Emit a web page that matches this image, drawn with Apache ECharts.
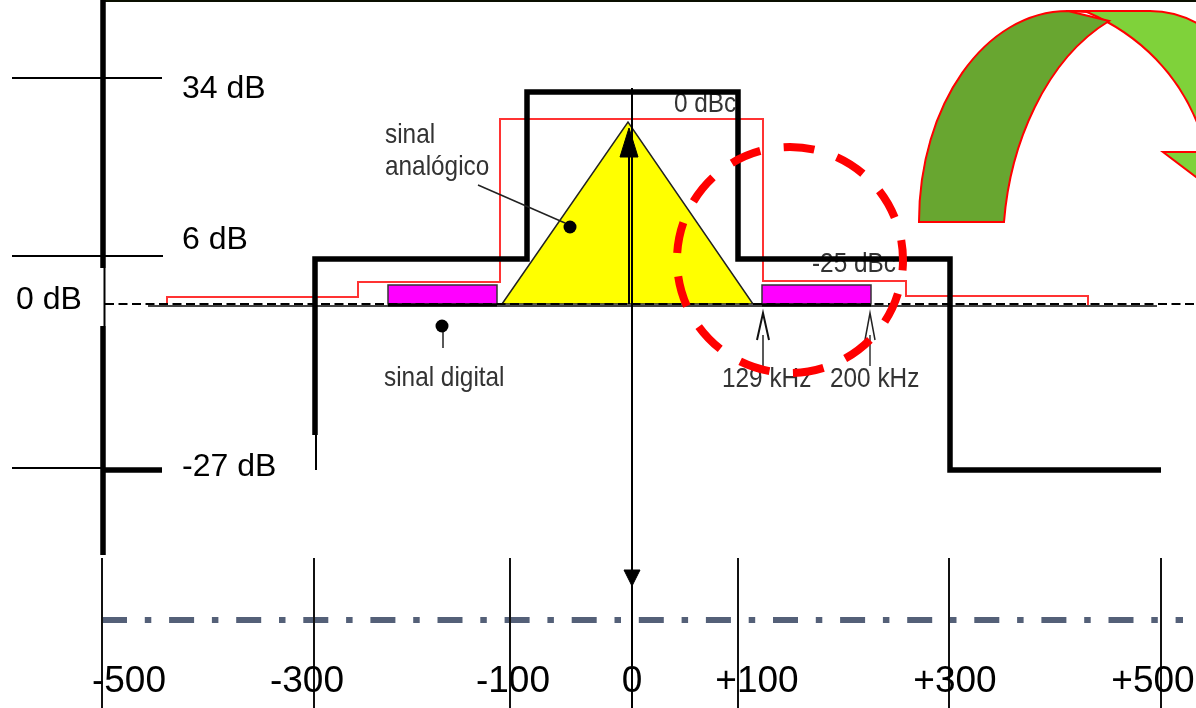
<!DOCTYPE html>
<html>
<head>
<meta charset="utf-8">
<style>
  html, body { margin: 0; padding: 0; background: #fff; }
  #chart { width: 1196px; height: 708px; }
</style>
<script src="https://cdn.jsdelivr.net/npm/echarts@6/dist/echarts.min.js"></script>
</head>
<body>
<div id="chart"></div>
<script>
// the drawing is a schematic, not to scale: values are read in picture units on both axes
const topEdge = [[102, 1], [1196, 1]];
const axisUpper = [[103, 0], [103, 268]];
const axisGap = [[104.5, 268], [104.5, 326]];
const axisLower = [[103, 326], [103, 555]];
const level34 = [[12, 78], [162, 78]];
const level6 = [[12, 256], [163, 256]];
const levelMinus27Thin = [[12, 468], [105, 468]];
const levelMinus27Thick = [[105, 470], [162, 470]];

const baseSolid = [[148, 306], [1157, 306]];
const baseDashed = [[105, 304], [1196, 304]];
const maskLeftThin = [[316, 430], [316, 470]];
const maskThick = [[315, 435], [315, 259], [527, 259], [527, 92], [738, 92], [738, 259], [950, 259], [950, 470], [1161, 470]];
const redOutline = [[167, 305], [167, 297], [358, 297], [358, 282], [500, 282], [500, 119], [763, 119], [763, 281], [906, 281], [906, 296], [1088, 296], [1088, 305]];

const analogTriangle = [[502, 304], [628, 122], [753, 304]];
const digitalLeft = [[388, 285], [497, 285], [497, 304], [388, 304]];
const digitalRight = [[762, 285], [871, 285], [871, 304], [762, 304]];

const centerLine = [[632, 88], [632, 708]];
const centerInner = [[629, 155], [629, 304]];
const arrowUp = [[629, 128], [638, 157], [620, 157]];
const arrowDown = [[624, 570], [640, 570], [632, 586]];

const tickX = [102, 314, 510, 738, 949, 1161];
const dashDotLine = [[102, 620], [1183, 620]];

const leaderAnalog = [[478, 185], [565, 223]];
const leaderDigital = [[443, 326], [443, 348]];
const dots = [[570, 227], [442, 326]];
const arrow129 = [[757, 340], [763, 313], [769, 340]];
const stem129 = [[763, 335], [763, 366]];
const arrow200 = [[865, 340], [870, 313], [875, 340]];
const stem200 = [[870, 335], [870, 366]];

const circleCenter = [790, 260];
const circleRadius = 113;

const archDark = [['M', 919, 222], ['C', 919, 105, 985, 11, 1068, 11], ['L', 1109, 21], ['C', 1045, 60, 1010, 145, 1004, 222], ['Z']];
const archLight = [['M', 1066, 11], ['L', 1150, 11], ['C', 1170, 11, 1185, 16, 1200, 25], ['L', 1200, 130], ['C', 1180, 75, 1140, 35, 1087, 12], ['Z']];
const archHead = [[1163, 152], [1200, 152], [1200, 180]];

const bigLabels = [
  ['34 dB', 182, 89], ['6 dB', 182, 240], ['-27 dB', 182, 467], ['0 dB', 16, 300]
];
const freqLabels = [
  ['-500', 129, 682], ['-300', 307, 682], ['-100', 513, 682], ['0', 632, 682],
  ['+100', 757, 682], ['+300', 955, 682], ['+500', 1153, 682]
];
const noteLabels = [
  ['0 dBc', 674, 104], ['-25 dBc', 812, 264], ['sinal', 385, 135], ['analógico', 385, 167],
  ['sinal digital', 384, 378], ['129 kHz', 722, 379], ['200 kHz', 830, 379]
];

function line(data, color, width, z, type) {
  return {
    type: 'line', data, z, symbol: 'none', silent: true, clip: false,
    lineStyle: { color, width, type: type || 'solid', cap: 'butt', join: 'miter', opacity: 1 }
  };
}

function polygon(points, fill, stroke, width, z) {
  return {
    type: 'custom', data: [0], z, silent: true, clip: false,
    renderItem: (params, api) => ({
      type: 'polygon',
      shape: { points: points.map(p => api.coord(p)) },
      style: { fill, stroke, lineWidth: width }
    })
  };
}

function curve(commands, fill, stroke, width, z) {
  return {
    type: 'custom', data: [0], z, silent: true, clip: false,
    renderItem: (params, api) => {
      const d = commands.map(c => {
        let out = c[0];
        for (let i = 1; i < c.length; i += 2) {
          const p = api.coord([c[i], c[i + 1]]);
          out += ' ' + p[0] + ' ' + p[1];
        }
        return out;
      }).join(' ');
      return { type: 'path', shape: { pathData: d }, style: { fill, stroke, lineWidth: width } };
    }
  };
}

function labels(rows, size, color, align, z) {
  return {
    type: 'scatter', z, silent: true, clip: false, symbolSize: 0,
    itemStyle: { opacity: 1 },
    data: rows.map(r => ({ value: [r[1], r[2]], name: r[0] })),
    label: {
      show: true, position: 'inside', formatter: '{b}', align, verticalAlign: 'middle', opacity: 1,
      fontFamily: '"Liberation Sans", Arial, sans-serif', fontSize: size, color
    }
  };
}

// the small notes come from an old bitmap, narrower than the regular face
function narrowLabels(rows, size, squeeze, color, z) {
  return {
    type: 'custom', data: rows.map((r, i) => i), z, silent: true, clip: false,
    renderItem: (params, api) => {
      const r = rows[params.dataIndex];
      const p = api.coord([r[1], r[2]]);
      return {
        type: 'text', x: p[0], y: p[1], scaleX: squeeze,
        style: {
          text: r[0], fill: color, verticalAlign: 'middle', align: 'left',
          font: size + 'px "Liberation Sans", Arial, sans-serif'
        }
      };
    }
  };
}

const chart = echarts.init(document.getElementById('chart'));
chart.setOption({
  animation: false,
  backgroundColor: '#fff',
  grid: { left: 0, right: 0, top: 0, bottom: 0 },
  xAxis: { type: 'value', min: 0, max: 1196, show: false },
  yAxis: { type: 'value', min: 0, max: 708, inverse: true, show: false },
  series: [
    curve(archLight, '#7FD23A', '#FF0000', 2, 2),
    polygon(archHead, '#7FD23A', '#FF0000', 2, 2),
    curve(archDark, '#68A630', '#FF0000', 2, 3),

    polygon(analogTriangle, '#FFFF00', '#222', 1.5, 4),
    polygon(digitalLeft, '#FF00FF', '#333', 1.5, 4),
    polygon(digitalRight, '#FF00FF', '#333', 1.5, 4),

    narrowLabels(noteLabels, 28, 0.87, '#333', 5),

    line(topEdge, '#0a0f00', 2, 6),
    line(redOutline, '#FF3333', 2, 6),
    line(baseSolid, '#444', 2, 6),
    line(baseDashed, '#000', 2, 7, [9, 4.5]),
    line([[388, 305], [497, 305]], '#000', 3, 7),
    line([[762, 305], [871, 305]], '#000', 3, 7),
    line(maskLeftThin, '#000', 2, 8),
    line(maskThick, '#000', 5.5, 8),

    line(axisUpper, '#000', 5.5, 8),
    line(axisGap, '#000', 2, 8),
    line(axisLower, '#000', 5.5, 8),
    line(level34, '#000', 2, 8),
    line(level6, '#000', 2, 8),
    line(levelMinus27Thin, '#000', 2, 8),
    line(levelMinus27Thick, '#000', 5.5, 8),

    line(leaderAnalog, '#222', 1.5, 8),
    line(leaderDigital, '#222', 1.5, 8),
    {
      type: 'scatter', z: 9, silent: true, clip: false, symbol: 'circle', symbolSize: 13,
      data: dots, itemStyle: { color: '#000', opacity: 1 }
    },
    line(arrow129, '#111', 2, 8),
    line(stem129, '#222', 1.5, 8),
    line(arrow200, '#222', 1.5, 8),
    line(stem200, '#333', 1.5, 8),

    line(centerLine, '#000', 2, 9),
    line(centerInner, '#000', 2, 9),
    polygon(arrowUp, '#000', '#000', 1, 9),
    polygon(arrowDown, '#000', '#000', 1, 9),

    ...tickX.map(x => line([[x, 558], [x, 708]], '#111', 2, 9)),
    line(dashDotLine, '#546078', 6, 8, [25, 17.8, 6.5, 17.8]),

    {
      type: 'custom', data: [0], z: 10, silent: true, clip: false,
      renderItem: (params, api) => {
        const c = api.coord(circleCenter);
        return {
          type: 'circle',
          shape: { cx: c[0], cy: c[1], r: circleRadius },
          style: { fill: 'none', stroke: '#FF0000', lineWidth: 8, lineDash: [31, 23.6], lineDashOffset: 20.5 }
        };
      }
    },

    labels(bigLabels, 32, '#000', 'left', 11),
    labels(freqLabels, 37, '#000', 'center', 11)
  ]
});
</script>
</body>
</html>
